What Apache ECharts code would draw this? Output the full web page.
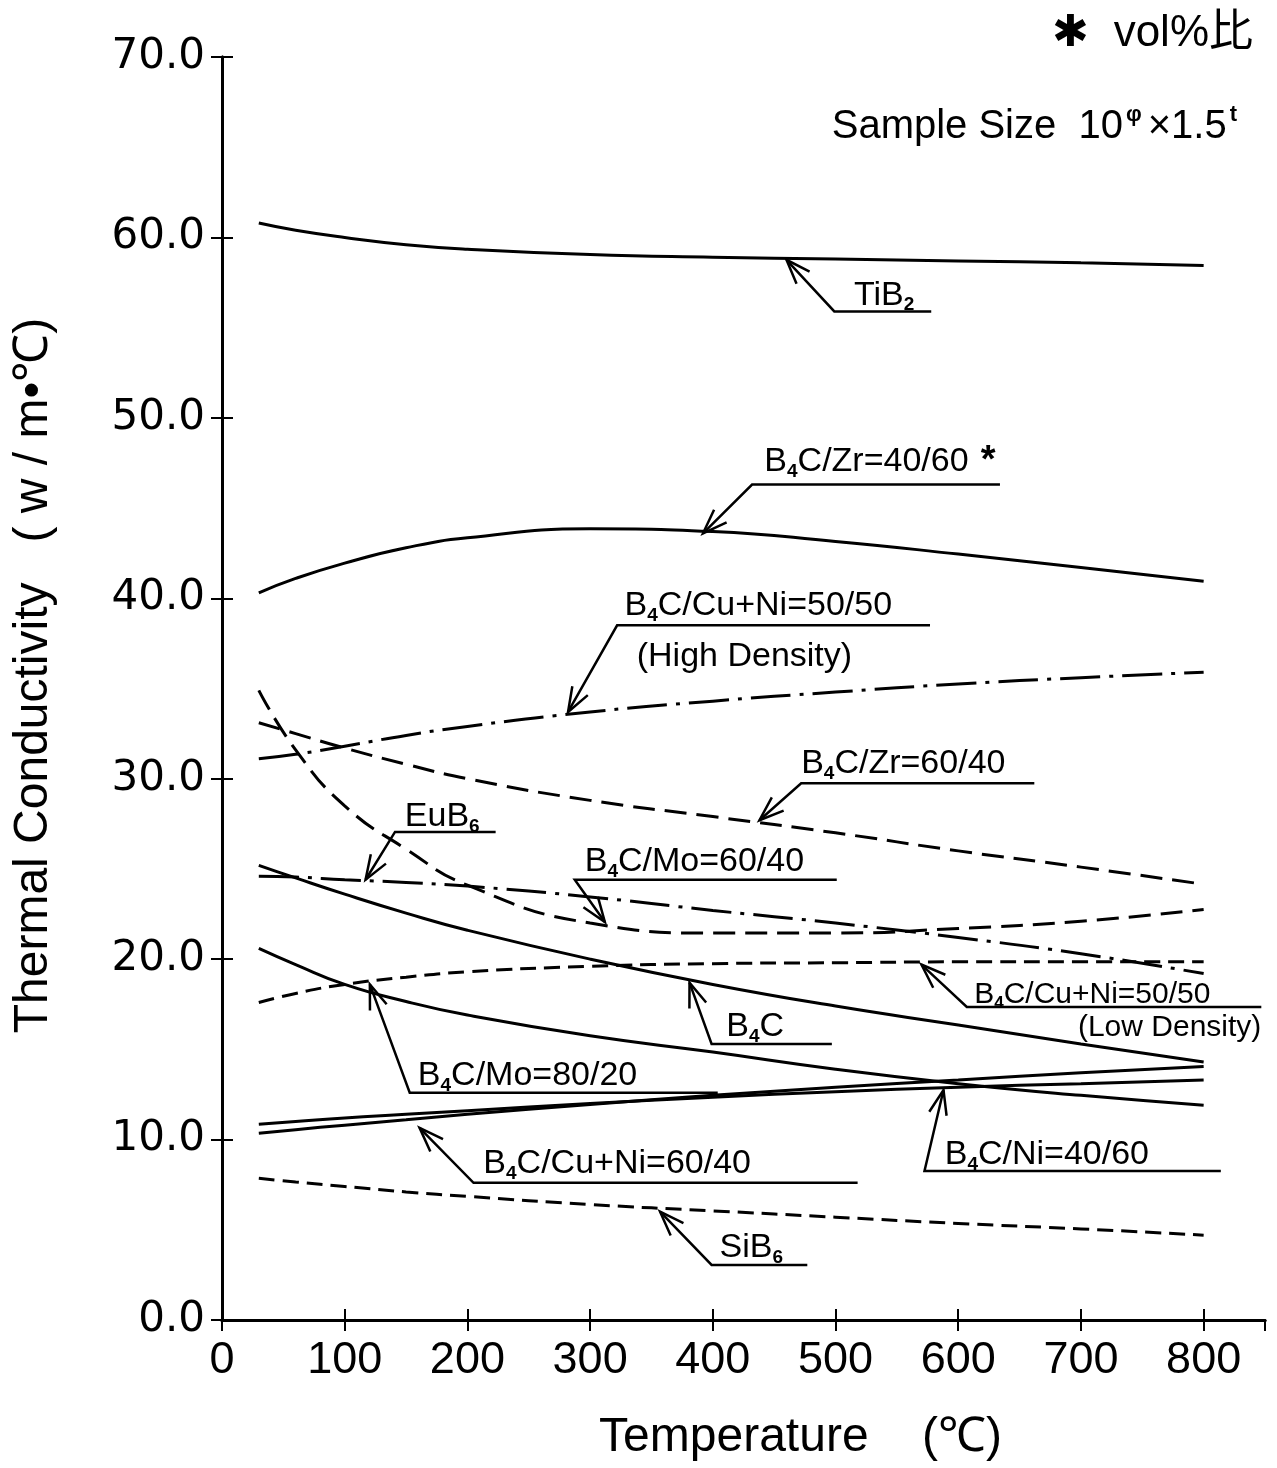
<!DOCTYPE html>
<html>
<head>
<meta charset="utf-8">
<script src="https://cdn.jsdelivr.net/npm/echarts@6/dist/echarts.min.js"></script>
<style>
  html, body { margin: 0; padding: 0; background: #fff; }
  #chart { width: 1277px; height: 1468px; }
</style>
</head>
<body>
<div id="chart"></div>
<script>
const temps = [30, 60, 100, 150, 200, 300, 400, 500, 600, 700, 800]

// thermal conductivity (w/m·℃)
const tib2      = [60.8, 60.4, 60.0, 59.6, 59.35, 59.05, 58.9, 58.8, 58.7, 58.6, 58.45]
const zr4060    = [40.3, 41.1, 41.95, 42.8, 43.35, 43.85, 43.7, 43.15, 42.45, 41.7, 40.95]
const cuNiHigh  = [31.1, 31.35, 31.8, 32.4, 32.9, 33.7, 34.3, 34.8, 35.25, 35.6, 35.9]
const zr6040    = [33.1, 32.5, 31.7, 30.8, 30.0, 28.8, 27.9, 27.0, 26.0, 25.1, 24.15]
const mo6040    = [34.9, 31.6, 28.5, 26.1, 24.1, 22.0, 21.45, 21.45, 21.7, 22.1, 22.75]
const eub6      = [24.6, 24.55, 24.4, 24.25, 24.05, 23.45, 22.7, 22.0, 21.2, 20.3, 19.2]
const cuNiLow   = [17.6, 18.1, 18.6, 19.0, 19.3, 19.6, 19.75, 19.8, 19.85, 19.85, 19.85]
const b4c       = [25.2, 24.5, 23.6, 22.55, 21.6, 20.0, 18.6, 17.4, 16.35, 15.3, 14.3]
const mo8020    = [20.6, 19.7, 18.6, 17.65, 16.9, 15.75, 14.85, 13.9, 13.1, 12.45, 11.9]
const cuNi6040  = [10.35, 10.55, 10.8, 11.1, 11.4, 11.95, 12.45, 12.9, 13.3, 13.7, 14.05]
const ni4060    = [10.85, 11.0, 11.2, 11.4, 11.6, 12.0, 12.35, 12.65, 12.9, 13.1, 13.3]
const sib6      = [7.85, 7.65, 7.4, 7.1, 6.85, 6.4, 6.05, 5.7, 5.35, 5.05, 4.7]

const xMin = 0, xMax = 850, xStep = 100
const yMin = 0, yMax = 70, yStep = 10

const SOLID = 'solid'
const DASH = [22, 10]
const DASH_SHORT = [16, 8]
const DASH_DOT = [40, 9, 4, 9]

const curves = [
    {name: 'TiB2', values: tib2, dash: SOLID},
    {name: 'B4C/Zr=40/60', values: zr4060, dash: SOLID},
    {name: 'B4C/Cu+Ni=50/50 (High Density)', values: cuNiHigh, dash: DASH_DOT},
    {name: 'B4C/Zr=60/40', values: zr6040, dash: DASH},
    {name: 'B4C/Mo=60/40', values: mo6040, dash: DASH},
    {name: 'EuB6', values: eub6, dash: DASH_DOT},
    {name: 'B4C/Cu+Ni=50/50 (Low Density)', values: cuNiLow, dash: DASH_SHORT},
    {name: 'B4C', values: b4c, dash: SOLID},
    {name: 'B4C/Mo=80/20', values: mo8020, dash: SOLID},
    {name: 'B4C/Cu+Ni=60/40', values: cuNi6040, dash: SOLID},
    {name: 'B4C/Ni=40/60', values: ni4060, dash: SOLID},
    {name: 'SiB6', values: sib6, dash: DASH_SHORT},
]

// leader-line callouts, in data coordinates; "_n" marks a subscript
const notes = [
    {tip: [460, 58.76], elbow: [499, 55.9], end: [578, 55.9], texts: [{t: 'TiB_2', at: [515, 56.8]}]},
    {tip: [392, 43.6], elbow: [432, 46.3], end: [634, 46.3], texts: [{t: 'B_4C/Zr=40/60^*', at: [442, 47.56]}]},
    {tip: [282, 33.7], elbow: [322, 38.5], end: [577, 38.5],
        texts: [{t: 'B_4C/Cu+Ni=50/50', at: [328, 39.58]}, {t: '(High Density)', at: [338, 36.75]}]},
    {tip: [438, 27.7], elbow: [472, 29.75], end: [662, 29.75], texts: [{t: 'B_4C/Zr=60/40', at: [472, 30.82]}]},
    {tip: [117, 24.4], elbow: [141, 27.05], end: [223, 27.05], texts: [{t: 'EuB_6', at: [149, 27.88]}]},
    {tip: [312, 22.06], elbow: [287.5, 24.4], end: [501, 24.4], texts: [{t: 'B_4C/Mo=60/40', at: [295.6, 25.39]}]},
    {tip: [570, 19.7], elbow: [607, 17.35], end: [847, 17.35],
        texts: [{t: 'B_4C/Cu+Ni=50/50', at: [613, 18.0], size: 30}, {t: '(Low Density)', at: [847, 16.19], size: 30, right: true}]},
    {tip: [381, 18.7], elbow: [399, 15.3], end: [497, 15.3], texts: [{t: 'B_4C', at: [411, 16.24]}]},
    {tip: [120.5, 18.6], elbow: [153, 12.6], end: [404, 12.6], texts: [{t: 'B_4C/Mo=80/20', at: [159.6, 13.53]}]},
    {tip: [161, 10.65], elbow: [205, 7.6], end: [518, 7.6], texts: [{t: 'B_4C/Cu+Ni=60/40', at: [213, 8.65]}]},
    {tip: [588, 12.75], elbow: [572.5, 8.26], end: [814, 8.26], texts: [{t: 'B_4C/Ni=40/60', at: [589, 9.15]}]},
    {tip: [357, 6.0], elbow: [399, 3.05], end: [477, 3.05], texts: [{t: 'SiB_6', at: [405.5, 3.99]}]},
]

const SANS = '"Liberation Sans", Arial, sans-serif'

const chart = echarts.init(document.getElementById('chart'))

const boxAxis = {
    type: 'value',
    min: xMin,
    max: xMax,
    interval: xStep,
    axisLine: {lineStyle: {color: '#000', width: 3}},
    axisTick: {inside: true, length: 11, lineStyle: {color: '#000', width: 2}},
    splitLine: {show: false},
}

chart.setOption({
    animation: false,
    backgroundColor: '#fff',
    grid: {left: 222, right: 12, top: 57, bottom: 148},
    xAxis: [
        {
            ...boxAxis,
            position: 'bottom',
            axisLabel: {
                color: '#000',
                fontSize: 45,
                fontFamily: SANS,
                margin: 18,
                showMaxLabel: false,
                formatter: (v) => (v > 800 ? '' : String(v)),
            },
            name: 'Temperature    (℃)',
            nameLocation: 'middle',
            nameGap: 94,
            nameTextStyle: {color: '#000', fontSize: 48, fontFamily: SANS, padding: [0, 0, 0, 114]},
        },
        {...boxAxis, position: 'top', axisLabel: {show: false}},
    ],
    yAxis: [
        {
            ...boxAxis,
            min: yMin,
            max: yMax,
            interval: yStep,
            position: 'left',
            axisLabel: {
                color: '#000',
                fontSize: 42,
                fontFamily: '"DejaVu Sans", sans-serif',
                margin: 17,
                formatter: (v) => v.toFixed(1),
            },
            name: 'Thermal Conductivity   ( w / m•℃)',
            nameLocation: 'middle',
            nameGap: 164,
            nameTextStyle: {color: '#000', fontSize: 48, fontFamily: SANS, padding: [0, 0, 0, 26]},
        },
        {...boxAxis, min: yMin, max: yMax, interval: yStep, position: 'right', axisLabel: {show: false}},
    ],
    series: curves.map((c) => ({
        name: c.name,
        type: 'line',
        xAxisIndex: 0,
        yAxisIndex: 0,
        data: temps.map((t, i) => [t, c.values[i]]),
        showSymbol: false,
        smooth: 0.5,
        lineStyle: {color: '#000', width: 3, type: c.dash},
    })),
})

// text like "B_4C/Zr=40/60^*" -> rich text tokens
function richText(str) {
    return str
        .replace(/_(\d)/g, '\u0001$1\u0002')
        .replace(/\^(\S)/g, '\u0003$1\u0002')
        .split(/(?=[\u0001\u0003])|\u0002/)
        .filter((s) => s.length)
        .map((s) => {
            if (s[0] === '\u0001') return `{s|${s.slice(1)}}`
            if (s[0] === '\u0003') return `{a|${s.slice(1)}}`
            return `{n|${s}}`
        })
        .join('')
}

function richStyles(size) {
    return {
        n: {fontSize: size, fontFamily: SANS, fill: '#000', lineHeight: size + 4},
        s: {fontSize: Math.round(size * 0.55), fontFamily: SANS, fontWeight: 'bold', fill: '#000', verticalAlign: 'bottom', lineHeight: size + 4},
        a: {fontSize: size + 4, fontFamily: SANS, fontWeight: 'bold', fill: '#000', verticalAlign: 'top', lineHeight: size + 4, padding: [0, 0, 0, 12]},
    }
}

const toPx = (p) => chart.convertToPixel({xAxisIndex: 0, yAxisIndex: 0}, p)

const graphics = []
notes.forEach((n) => {
    const tip = toPx(n.tip)
    const elbow = toPx(n.elbow)
    const end = toPx(n.end)
    graphics.push({
        type: 'polyline',
        shape: {points: [tip, elbow, end]},
        style: {stroke: '#000', lineWidth: 2.5, fill: null},
    })
    const dx = elbow[0] - tip[0]
    const dy = elbow[1] - tip[1]
    const len = Math.hypot(dx, dy)
    const ux = dx / len
    const uy = dy / len
    const a = (20 * Math.PI) / 180
    const L = 26
    const rot = (s) => [
        tip[0] + L * (ux * Math.cos(s * a) - uy * Math.sin(s * a)),
        tip[1] + L * (ux * Math.sin(s * a) + uy * Math.cos(s * a)),
    ]
    graphics.push({
        type: 'polyline',
        shape: {points: [rot(1), tip, rot(-1)]},
        style: {stroke: '#000', lineWidth: 2.5, fill: null},
    })
    n.texts.forEach((tx) => {
        const p = toPx(tx.at)
        const size = tx.size || 34
        graphics.push({
            type: 'text',
            x: p[0],
            y: p[1],
            style: {
                text: richText(tx.t),
                rich: richStyles(size),
                align: tx.right ? 'right' : 'left',
                verticalAlign: 'middle',
            },
        })
    })
})

graphics.push({
    type: 'text',
    right: 24,
    top: 12,
    style: {
        text: '✱  vol%比',
        font: '44px "Liberation Sans", "Noto Sans CJK JP", sans-serif',
        fill: '#000',
    },
})
graphics.push({
    type: 'text',
    right: 34,
    top: 104,
    style: {
        text: '{n|Sample Size  10}{p|φ}{n|×1.5}{p|t}',
        rich: {
            n: {fontSize: 40, fontFamily: SANS, fill: '#000', lineHeight: 46},
            p: {fontSize: 22, fontFamily: SANS, fontWeight: 'bold', fill: '#000', verticalAlign: 'top', lineHeight: 46, padding: [0, 6, 0, 3]},
        },
    },
})

chart.setOption({graphic: graphics})
</script>
</body>
</html>
